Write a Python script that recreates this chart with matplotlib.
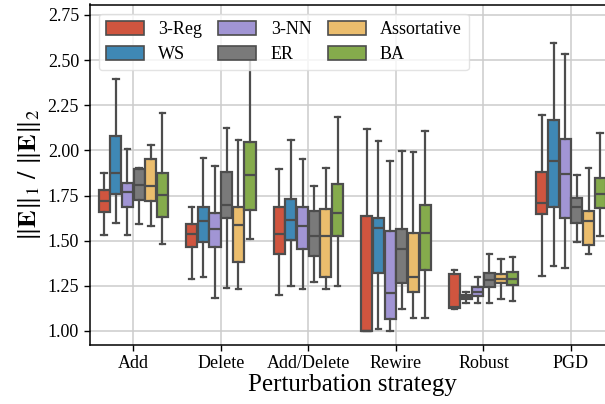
import matplotlib
matplotlib.use("Agg")
import matplotlib.pyplot as plt
import numpy as np

# categories and hue levels
strategies = ["Add", "Delete", "Add/Delete", "Rewire", "Robust", "PGD"]
graphs = ["3-Reg", "WS", "3-NN", "ER", "Assortative", "BA"]
colors = ["#d0553f", "#3f88b5", "#a195d4", "#7a7a7a", "#ebbd6d", "#85ab4c"]

# box statistics, one row per strategy, one column per graph
whislo = [
    [1.53, 1.60, 1.53, 1.59, 1.58, 1.48],
    [1.29, 1.30, 1.18, 1.24, 1.23, 1.51],
    [1.20, 1.25, 1.23, 1.27, 1.23, 1.25],
    [1.00, 1.01, 1.00, 1.12, 1.07, 1.07],
    [1.12, 1.155, 1.157, 1.157, 1.176, 1.165],
    [1.305, 1.357, 1.351, 1.492, 1.425, 1.527],
]
q1 = [
    [1.660, 1.758, 1.689, 1.726, 1.722, 1.632],
    [1.464, 1.495, 1.466, 1.623, 1.381, 1.672],
    [1.425, 1.503, 1.456, 1.416, 1.296, 1.528],
    [1.000, 1.320, 1.068, 1.264, 1.218, 1.336],
    [1.125, 1.178, 1.194, 1.242, 1.264, 1.253],
    [1.649, 1.684, 1.626, 1.597, 1.477, 1.680],
]
med = [
    [1.721, 1.876, 1.769, 1.809, 1.800, 1.754],
    [1.536, 1.611, 1.565, 1.695, 1.589, 1.865],
    [1.536, 1.615, 1.582, 1.527, 1.523, 1.652],
    [1.000, 1.569, 1.209, 1.455, 1.301, 1.541],
    [1.130, 1.188, 1.218, 1.283, 1.288, 1.287],
    [1.711, 1.941, 1.870, 1.686, 1.610, 1.758],
]
q3 = [
    [1.778, 2.077, 1.817, 1.896, 1.953, 1.877],
    [1.591, 1.684, 1.654, 1.880, 1.684, 2.049],
    [1.686, 1.733, 1.684, 1.665, 1.676, 1.815],
    [1.634, 1.628, 1.556, 1.564, 1.541, 1.695],
    [1.316, 1.199, 1.242, 1.320, 1.316, 1.327],
    [1.881, 2.168, 2.063, 1.737, 1.665, 1.848],
]
whishi = [
    [1.874, 2.397, 2.007, 1.900, 2.031, 2.208],
    [1.687, 1.959, 1.911, 2.125, 2.057, 2.52],
    [1.896, 2.060, 1.953, 1.802, 1.904, 2.185],
    [2.120, 2.053, 1.941, 1.998, 1.992, 2.107],
    [1.338, 1.213, 1.296, 1.425, 1.401, 1.412],
    [2.196, 2.595, 2.532, 1.865, 1.905, 2.099],
]
yticks = [1.00, 1.25, 1.50, 1.75, 2.00, 2.25, 2.50, 2.75]

plt.rcParams["font.family"] = ["Liberation Serif", "DejaVu Serif"]
plt.rcParams["mathtext.fontset"] = "stix"

W, H = 605, 404
fig = plt.figure(figsize=(W / 100, H / 100), dpi=100)
# axes runs past the right edge, as in the cropped reference
ax = fig.add_axes([89.5 / W, (H - 345) / H, (614.8 - 89.5) / W, (345 - 4.5) / H])

n = len(graphs)
step = 0.8 / n
edge = "#4d4d4d"
for j, g in enumerate(graphs):
    stats = []
    for i in range(len(strategies)):
        stats.append(dict(whislo=whislo[i][j], q1=q1[i][j], med=med[i][j],
                          q3=q3[i][j], whishi=whishi[i][j], fliers=[]))
    pos = np.arange(len(strategies)) + (j - (n - 1) / 2) * step
    ax.bxp(stats, positions=pos, widths=step * 0.95, patch_artist=True,
           showfliers=False, manage_ticks=False,
           boxprops=dict(facecolor=colors[j], edgecolor=edge, linewidth=1.6),
           medianprops=dict(color=edge, linewidth=1.6),
           whiskerprops=dict(color=edge, linewidth=1.6),
           capprops=dict(color=edge, linewidth=1.6),
           label=g)

ax.set_xlim(-0.5, len(strategies) - 0.5)
ax.set_ylim(0.922, 2.808)
ax.set_xticks(range(len(strategies)))
ax.set_xticklabels(strategies)
ax.set_yticks(yticks)
ax.set_yticklabels([f"{t:.2f}" for t in yticks])
ax.tick_params(labelsize=13, direction="out", length=4, width=1, color="black")
ax.grid(True, color="#cccccc", linewidth=1.1)
ax.set_axisbelow(True)
for s in ax.spines.values():
    s.set_color("black")
    s.set_linewidth(1.1)

ax.set_xlabel("Perturbation strategy", fontsize=18, labelpad=1)
ax.set_ylabel(r"$\|\mathbf{E}\|_1\ /\ \|\mathbf{E}\|_2$", fontsize=19, labelpad=3)

handles = [plt.Rectangle((0, 0), 1, 1, facecolor=c, edgecolor=edge, linewidth=1.2) for c in colors]
ax.legend(handles, graphs, ncol=3, loc="upper left", fontsize=13, framealpha=0.8,
          handlelength=2.1, handleheight=0.8, columnspacing=0.9, borderaxespad=0.5,
          labelspacing=0.45, handletextpad=0.8, edgecolor="#dddddd")

fig.savefig("out.png", dpi=100)
